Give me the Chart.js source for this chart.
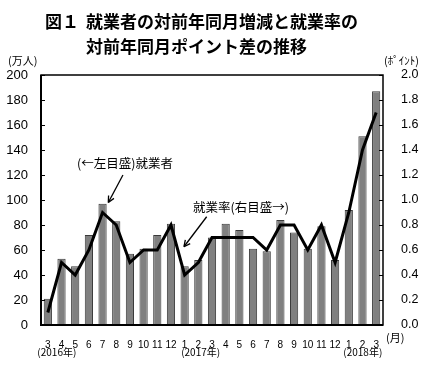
<!DOCTYPE html>
<html><head><meta charset="utf-8">
<script src="https://cdn.jsdelivr.net/npm/chart.js@4/dist/chart.umd.min.js"></script>
<style>html,body{margin:0;padding:0;background:#fff;}canvas{display:block;}</style>
</head><body>
<canvas id="c" width="427" height="375"></canvas>
<script>
const categories = ['3','4','5','6','7','8','9','10','11','12','1','2','3','4','5','6','7','8','9','10','11','12','1','2','3'];
const employedChange = [21,53,47,72,97,83,57,61,72,81,47,52,70,81,76,61,59,84,74,61,79,52,92,151,187];
const rateDiff = [0.1,0.5,0.4,0.6,0.9,0.8,0.5,0.6,0.6,0.8,0.4,0.5,0.7,0.7,0.7,0.7,0.6,0.8,0.8,0.6,0.8,0.5,0.9,1.4,1.7];
const leftTicks = [0,20,40,60,80,100,120,140,160,180,200];
const rightTicks = ['0.0','0.2','0.4','0.6','0.8','1.0','1.2','1.4','1.6','1.8','2.0'];
const yearLabels = ['(2016年)','(2017年)','(2018年)'];
const yearIndex = [0,10,22];
const titleLine1 = '就業者の対前年同月増減と就業率の';
const titleLine2 = '対前年同月ポイント差の推移';
const figNo = '図１';
const leftUnit = '(万人)';
const rightUnit = '(ﾎﾟｲﾝﾄ)';
const monthUnit = '(月)';
const employedLabel = '(←左目盛)就業者';
const rateLabel = '就業率(右目盛→)';

const SANS = '"Liberation Sans", Arial, sans-serif';
const CJK = '"Noto Sans CJK JP", sans-serif';

function arrow(ctx, x1, y1, x2, y2) {
  ctx.save();
  ctx.strokeStyle = '#000'; ctx.fillStyle = '#000'; ctx.lineWidth = 1.3;
  ctx.beginPath(); ctx.moveTo(x1, y1); ctx.lineTo(x2, y2); ctx.stroke();
  const a = Math.atan2(y2 - y1, x2 - x1), L = 7, w = 0.45;
  ctx.beginPath();
  ctx.moveTo(x2, y2);
  ctx.lineTo(x2 - L * Math.cos(a - w), y2 - L * Math.sin(a - w));
  ctx.moveTo(x2, y2);
  ctx.lineTo(x2 - L * Math.cos(a + w), y2 - L * Math.sin(a + w));
  ctx.stroke();
  ctx.restore();
}

const decor = {
  id: 'decor',
  afterDraw(chart) {
    const ctx = chart.ctx, a = chart.chartArea;
    const x = chart.scales.x, y = chart.scales.y, y1 = chart.scales.y1;
    ctx.save();
    ctx.strokeStyle = '#000'; ctx.lineWidth = 1.5;
    ctx.strokeRect(a.left, a.top, a.right - a.left, a.bottom - a.top);
    ctx.lineWidth = 2;
    ctx.beginPath(); ctx.moveTo(a.left, a.top); ctx.lineTo(a.left, a.bottom); ctx.lineTo(a.right, a.bottom); ctx.stroke();
    ctx.lineWidth = 1;
    leftTicks.forEach(v => { const py = Math.round(y.getPixelForValue(v)) + 0.5; ctx.beginPath(); ctx.moveTo(a.left, py); ctx.lineTo(a.left + 4, py); ctx.stroke(); });
    rightTicks.forEach(v => { const py = Math.round(y1.getPixelForValue(parseFloat(v))) + 0.5; ctx.beginPath(); ctx.moveTo(a.right, py); ctx.lineTo(a.right - 4, py); ctx.stroke(); });
    ctx.fillStyle = '#000';
    ctx.textBaseline = 'middle';
    ctx.font = 'bold 17px ' + CJK;
    ctx.textAlign = 'left';
    ctx.fillText(figNo, 45, 22);
    ctx.fillText(titleLine1, 86, 22);
    ctx.fillText(titleLine2, 86, 47);
    ctx.font = '11px ' + CJK;
    ctx.textAlign = 'left';
    ctx.fillText(leftUnit, 8, 61);
    ctx.textAlign = 'right';
    ctx.fillText(rightUnit, 419, 61);
    ctx.textAlign = 'left';
    ctx.fillText(monthUnit, 386, 338);
    ctx.font = '10px ' + CJK;
    ctx.textAlign = 'center';
    const yoff = [9, 16, 14];
    yearIndex.forEach((idx, i) => ctx.fillText(yearLabels[i], x.getPixelForValue(idx) + yoff[i], 352));
    ctx.font = '12.5px ' + CJK;
    ctx.textAlign = 'center';
    ctx.fillText(employedLabel, x.getPixelForValue(5.64), y.getPixelForValue(129.6));
    arrow(ctx, x.getPixelForValue(5.49), y.getPixelForValue(120), x.getPixelForValue(4.42), y.getPixelForValue(98));
    ctx.fillText(rateLabel, x.getPixelForValue(14.12), y1.getPixelForValue(0.944));
    arrow(ctx, x.getPixelForValue(11.61), y1.getPixelForValue(0.866), x.getPixelForValue(9.95), y1.getPixelForValue(0.626));
    ctx.restore();
  }
};

new Chart(document.getElementById('c'), {
  data: {
    labels: categories,
    datasets: [
      { type: 'line', data: rateDiff, yAxisID: 'y1', borderColor: '#000', borderWidth: 3, pointRadius: 0, tension: 0, fill: false, order: 0 },
      { type: 'bar', data: employedChange, yAxisID: 'y', backgroundColor: '#808080', borderColor: '#3a3a3a', borderWidth: 1, barPercentage: 0.6, categoryPercentage: 1, order: 1 }
    ]
  },
  options: {
    responsive: false, animation: false, devicePixelRatio: 1,
    layout: { padding: { top: 75, left: 0, right: 0, bottom: 0 } },
    plugins: { legend: { display: false }, tooltip: { enabled: false }, title: { display: false } },
    scales: {
      x: {
        offset: true,
        grid: { display: false }, border: { display: false },
        ticks: { color: '#000', font: { family: SANS, size: 10 }, padding: 6, maxRotation: 0, autoSkip: false },
        afterFit(s) { s.height = 50; }
      },
      y: {
        position: 'left', min: 0, max: 200,
        grid: { display: false }, border: { display: false },
        ticks: { stepSize: 20, color: '#000', font: { family: SANS, size: 13 }, padding: 5 },
        afterFit(s) { s.width = 41; }
      },
      y1: {
        position: 'right', min: 0, max: 2,
        grid: { display: false }, border: { display: false },
        ticks: { stepSize: 0.2, color: '#000', font: { family: SANS, size: 12.5 }, padding: 10, callback: v => v.toFixed(1) },
        afterFit(s) { s.width = 44; }
      }
    }
  },
  plugins: [decor]
});
</script>
</body></html>
